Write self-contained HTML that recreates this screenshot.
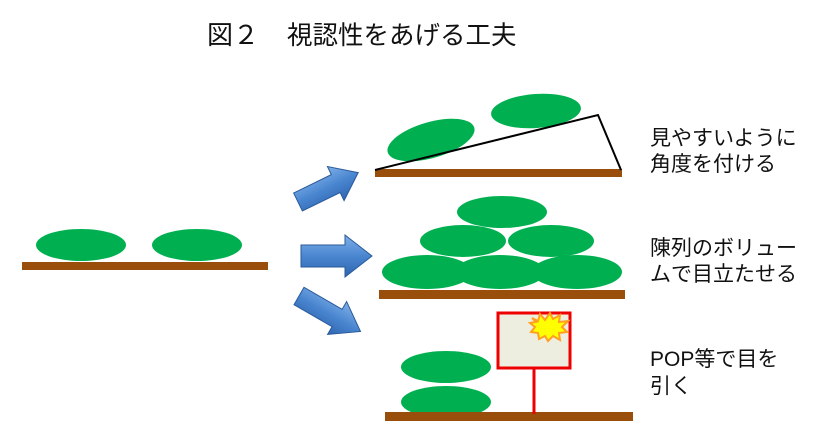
<!DOCTYPE html>
<html><head><meta charset="utf-8"><style>
body{margin:0;width:833px;height:436px;background:#fff;overflow:hidden;font-family:"Liberation Sans","Noto Sans CJK JP",sans-serif;}
</style></head><body>
<svg width="833" height="436" xmlns="http://www.w3.org/2000/svg" style="position:absolute;left:0;top:0">
<defs>
<linearGradient id="ag" x1="0" y1="0" x2="0" y2="1">
<stop offset="0" stop-color="#7fb0e8"/><stop offset="0.5" stop-color="#4a86d0"/><stop offset="1" stop-color="#2f65b0"/>
</linearGradient>
</defs>
<g font-family="Liberation Sans, Noto Sans CJK JP, sans-serif" fill="#111">
<text x="207" y="44" font-size="26">図２</text>
<text x="287" y="44" font-size="25.5">視認性をあげる工夫</text>
<g font-size="21">
<text x="650" y="145">見やすいように</text>
<text x="650" y="171">角度を付ける</text>
<text x="650" y="255">陳列のボリュー</text>
<text x="650" y="281">ムで目立たせる</text>
<text x="650" y="366">POP等で目を</text>
<text x="650" y="393">引く</text>
</g>
</g>
<g fill="#00b050">
<ellipse cx="81" cy="245" rx="45" ry="16"/>
<ellipse cx="197" cy="245" rx="45" ry="16"/>
<ellipse cx="431" cy="140" rx="45" ry="18" transform="rotate(-16 431 140)"/>
<ellipse cx="536" cy="111" rx="45" ry="17" transform="rotate(-4 536 111)"/>
<ellipse cx="427" cy="272" rx="45" ry="17"/>
<ellipse cx="500" cy="272" rx="45" ry="17"/>
<ellipse cx="577" cy="272" rx="45" ry="17"/>
<ellipse cx="463" cy="241" rx="43" ry="16"/>
<ellipse cx="551" cy="241" rx="43" ry="16"/>
<ellipse cx="502" cy="212" rx="45" ry="16"/>
<ellipse cx="446" cy="367" rx="45" ry="16"/>
<ellipse cx="446" cy="402" rx="45" ry="16"/>
</g>
<g fill="#9a4e0c">
<rect x="22" y="262" width="246" height="8"/>
<rect x="375" y="169" width="247" height="8"/>
<rect x="379" y="290" width="246" height="9"/>
<rect x="385" y="412" width="248" height="9"/>
</g>
<polyline points="375,170 598,115 621,170" fill="none" stroke="#000" stroke-width="2"/>
<rect x="498" y="313" width="72" height="55" fill="#eeeee0" stroke="#ee0000" stroke-width="3"/>
<line x1="534" y1="368" x2="534" y2="414" stroke="#ee0000" stroke-width="3"/>
<polygon points="532,318 538,321 540,314 545,320 550,313 553,319 560,315 559,322 568,321 562,327 567,332 559,333 560,340 553,336 548,341 545,336 539,339 538,333 531,332 535,327 530,323 536,322" fill="#ffff00" stroke="#ffa020" stroke-width="2"/>
<g fill="url(#ag)" stroke="#2a5a9a" stroke-width="1">
<polygon points="0,-10 42,-10 42,-19 67,0 42,19 42,10 0,10" transform="translate(298,202) rotate(-26)"/>
<polygon points="0,-11 44,-11 44,-21 71,0 44,21 44,11 0,11" transform="translate(301,256)"/>
<polygon points="0,-10 44,-10 44,-19 71,0 44,19 44,10 0,10" transform="translate(299,296) rotate(30)"/>
</g>
</svg>
</body></html>
